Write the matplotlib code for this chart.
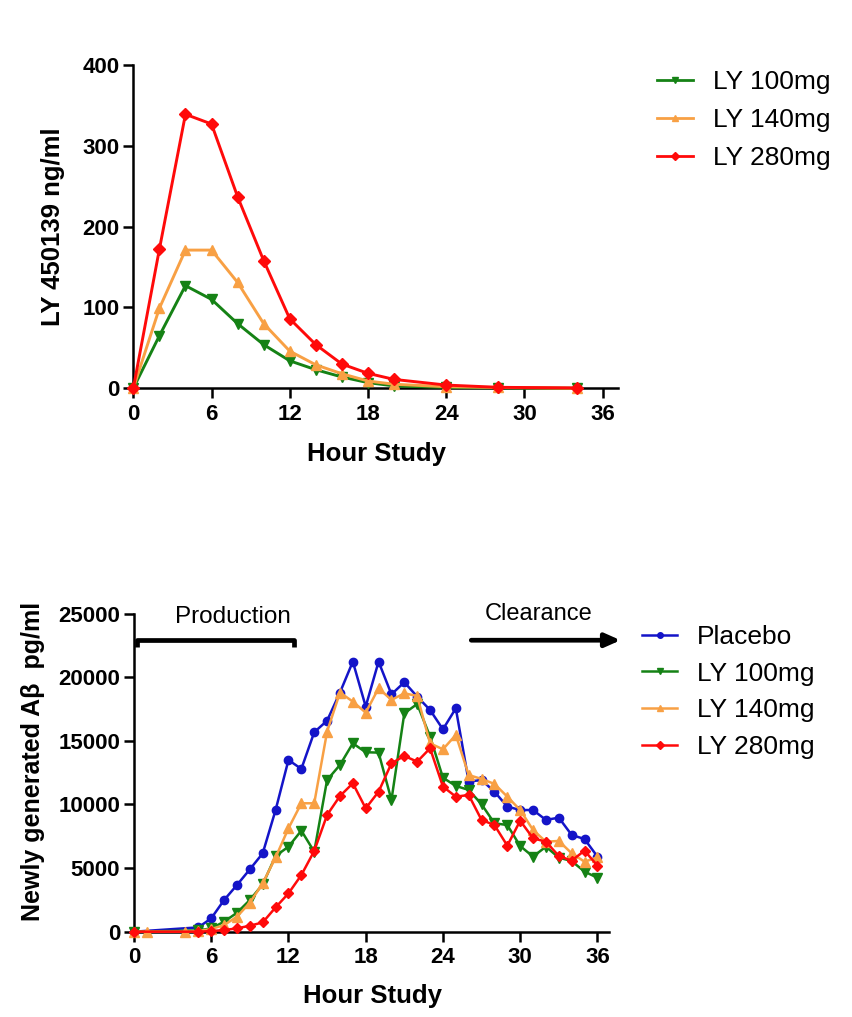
import matplotlib
matplotlib.use("Agg")
import matplotlib.pyplot as plt
from matplotlib.lines import Line2D

plt.rcParams['font.family'] = ['Liberation Sans', 'DejaVu Sans']

# ---------------- data: top panel (plasma concentration) ----------------
pk_hours = [0, 2, 4, 6, 8, 10, 12, 14, 16, 18, 20, 24, 28, 34]
pk_ly100 = [0, 65, 127, 110, 80, 54, 34, 23, 14, 7, 3, 1, 0.5, 0]
pk_ly140 = [0, 99, 171, 171, 131, 80, 46, 29, 18, 9, 5, 2, 1, 0]
pk_ly280 = [0, 172, 339, 327, 237, 158, 86, 54, 30, 18.5, 11, 4, 1.2, 0.5]
pk_labels = ["LY 100mg", "LY 140mg", "LY 280mg"]

# ---------------- data: bottom panel (newly generated Abeta) ----------------
late_hours = list(range(6, 37))
placebo_hours = [0, 5] + late_hours
placebo_vals = [0, 340, 1050, 2490, 3670, 4900, 6160, 9560, 13490, 12790, 15670,
                16580, 18790, 21220, 17690, 21220, 18650, 19600, 18470, 17420,
                15900, 17550, 11790, 11920, 11000, 9830, 9560, 9560, 8780, 8960,
                7600, 7280, 5900]
ly100_hours = [0, 5] + late_hours
ly100_vals = [0, 100, 262, 786, 1490, 2490, 3720, 5950, 6680, 7940, 6290, 11920,
              13100, 14800, 14100, 14070, 10350, 17160, 17890, 15330, 12100,
              11450, 11140, 10010, 8520, 8380, 6730, 5900, 6680, 5820, 5550,
              4720, 4240]
ly140_hours = [0, 1, 4, 5] + late_hours
ly140_vals = [0, 0, 0, 50, 210, 520, 1180, 2280, 3800, 5840, 8120, 10090, 10090,
              15720, 18790, 18080, 17210, 19130, 18210, 18730, 18520, 14800,
              14330, 15460, 12310, 12000, 11610, 10610, 9560, 7990, 7070, 7130,
              6160, 5500, 5840]
ly280_hours = [0, 5] + late_hours
ly280_vals = [0, 0, 50, 130, 260, 470, 730, 1910, 3010, 4450, 6340, 9170, 10660,
              11660, 9690, 11000, 13230, 13810, 13360, 14410, 11400, 10610,
              10740, 8780, 8380, 6760, 8720, 7340, 7070, 5950, 5580, 6370, 5190]
ab_labels = ["Placebo", "LY 100mg", "LY 140mg", "LY 280mg"]

x_ticks = [0, 6, 12, 18, 24, 30, 36]

C_BLUE = "#1414C8"
C_GREEN = "#158215"
C_ORANGE = "#F8A044"
C_RED = "#FF0A0A"

W, H = 852, 1017
fig = plt.figure(figsize=(W / 100, H / 100), dpi=100)


def style_axes(ax):
    for s in ("top", "right"):
        ax.spines[s].set_visible(False)
    for s in ("left", "bottom"):
        ax.spines[s].set_linewidth(1.8)
        ax.spines[s].set_zorder(1)
    ax.tick_params(axis="both", which="major", direction="out", length=7,
                   width=1.8, labelsize=16, pad=3)
    ax.tick_params(axis="x", pad=4)
    for lab in ax.get_xticklabels() + ax.get_yticklabels():
        lab.set_fontweight("bold")


# ---------------- top panel ----------------
ax1 = fig.add_axes([133.3 / W, 1 - 388.3 / H, 485 / W, 323.3 / H])
ax1.plot(pk_hours, pk_ly100, color=C_GREEN, marker="v", ms=7, lw=2.1,
         clip_on=False, zorder=3, label=pk_labels[0])
ax1.plot(pk_hours, pk_ly140, color=C_ORANGE, marker="^", ms=7, lw=2.1,
         clip_on=False, zorder=3, label=pk_labels[1])
ax1.plot(pk_hours, pk_ly280, color=C_RED, marker="D", ms=6.5, lw=2.1,
         clip_on=False, zorder=4, label=pk_labels[2])
ax1.set_xlim(0, 37.2)
ax1.set_ylim(0, 400)
ax1.set_xticks(x_ticks)
ax1.set_yticks([0, 100, 200, 300, 400])
style_axes(ax1)
ax1.set_xlabel("Hour Study", fontsize=18.5, fontweight="bold")
ax1.set_ylabel("LY 450139 ng/ml", fontsize=18.5, fontweight="bold")
ax1.xaxis.set_label_coords(0.502, -0.166)
ax1.yaxis.set_label_coords(-0.141, 0.50)

h1 = [Line2D([], [], color=C_GREEN, marker="v", ms=4.5, lw=2.0),
      Line2D([], [], color=C_ORANGE, marker="^", ms=4.5, lw=2.0),
      Line2D([], [], color=C_RED, marker="D", ms=4, lw=2.0)]
fig.legend(h1, pk_labels, loc="upper left",
           bbox_to_anchor=(657 / W, 1 - 70 / H), frameon=False,
           fontsize=19, handlelength=1.36, handletextpad=0.76,
           labelspacing=0.54, borderpad=0, borderaxespad=0)

# ---------------- bottom panel ----------------
ax2 = fig.add_axes([134 / W, 1 - 931.7 / H, 475 / W, 318.2 / H])
ax2.plot(placebo_hours, placebo_vals, color=C_BLUE, marker="o", ms=6, lw=1.8,
         clip_on=False, zorder=3)
ax2.plot(ly100_hours, ly100_vals, color=C_GREEN, marker="v", ms=6.5, lw=1.8,
         clip_on=False, zorder=3)
ax2.plot(ly140_hours, ly140_vals, color=C_ORANGE, marker="^", ms=6.5, lw=1.8,
         clip_on=False, zorder=3)
ax2.plot(ly280_hours, ly280_vals, color=C_RED, marker="D", ms=5.5, lw=1.8,
         clip_on=False, zorder=4)
ax2.set_xlim(0, 36.9)
ax2.set_ylim(0, 25000)
ax2.set_xticks(x_ticks)
ax2.set_yticks([0, 5000, 10000, 15000, 20000, 25000])
style_axes(ax2)
ax2.set_xlabel("Hour Study", fontsize=18.5, fontweight="bold")
ax2.set_ylabel("Newly generated A\u03b2  pg/ml", fontsize=18, fontweight="bold")
ax2.xaxis.set_label_coords(0.503, -0.164)
ax2.yaxis.set_label_coords(-0.188, 0.535)

# Production bracket
ax2.plot([0.26, 0.26, 12.43, 12.43], [22400, 22900, 22900, 22400], color="black",
         lw=3.4, clip_on=False, solid_capstyle="butt", zorder=5)
ax2.text(7.7, 24750, "Production", fontsize=17.5, ha="center", va="center")
# Clearance arrow
ax2.annotate("", xy=(37.8, 22900), xytext=(26.2, 22900), annotation_clip=False,
             arrowprops=dict(arrowstyle="-|>,head_length=0.9,head_width=0.4",
                             lw=3.4, color="black", shrinkA=0, shrinkB=0))
ax2.text(31.4, 25000, "Clearance", fontsize=17, ha="center", va="center")

h2 = [Line2D([], [], color=C_BLUE, marker="o", ms=4, lw=1.8),
      Line2D([], [], color=C_GREEN, marker="v", ms=4.5, lw=1.8),
      Line2D([], [], color=C_ORANGE, marker="^", ms=4.5, lw=1.8),
      Line2D([], [], color=C_RED, marker="D", ms=4, lw=1.8)]
fig.legend(h2, ab_labels, loc="upper left",
           bbox_to_anchor=(641.7 / W, 1 - 625 / H), frameon=False,
           fontsize=19, handlelength=1.35, handletextpad=0.73,
           labelspacing=0.48, borderpad=0, borderaxespad=0)

fig.savefig("out.png", dpi=100)
